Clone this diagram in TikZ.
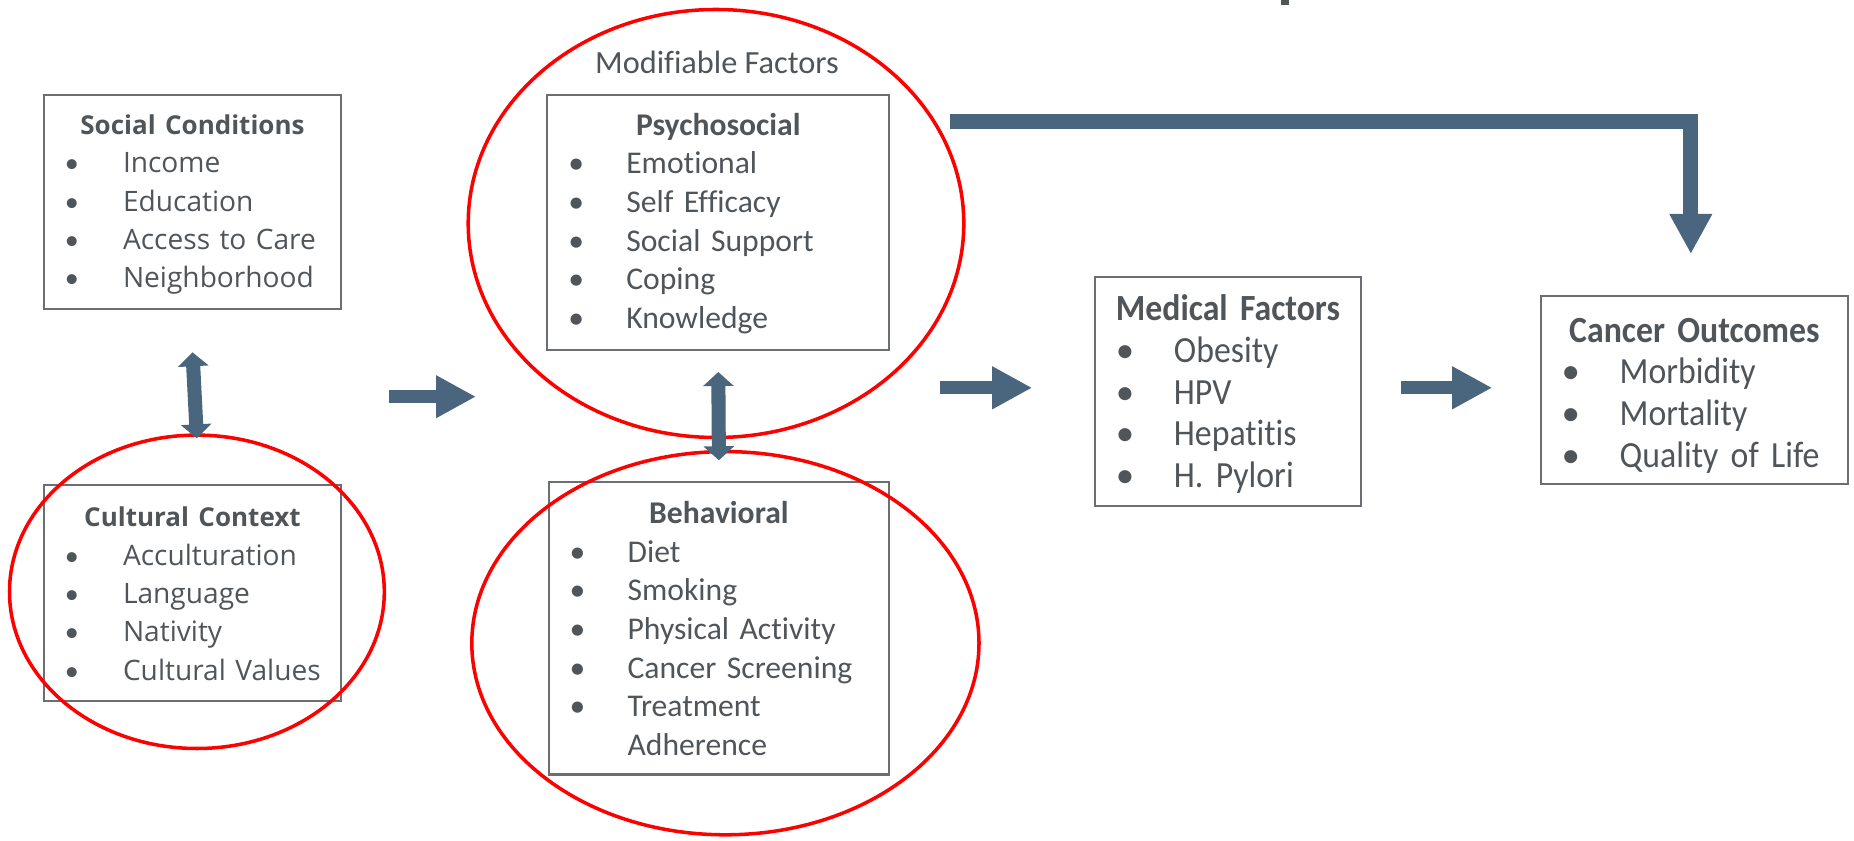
\documentclass[tikz,border=0pt]{standalone}
\usepackage{fontspec}
\setmainfont{Carlito}[Ligatures=NoCommon]
\newfontfamily\opensans{Open Sans}
\newfontfamily\narrowfont{Carlito}[FakeStretch=0.915, Ligatures=NoCommon]
\newfontfamily\bulletfont{Carlito}
\usetikzlibrary{arrows.meta,shapes.geometric}

\definecolor{txtgray}{HTML}{50555A}
\definecolor{boxgray}{HTML}{6B6E72}
\definecolor{arrowblue}{HTML}{4A657E}

\newcommand{\bitem}[1]{\makebox[0.58cm][l]{\bulletfont\textbullet}\mbox{#1}}
\newcommand{\btitle}[2][0pt]{\makebox[\linewidth][c]{\rule{0pt}{#1}\bfseries #2}}
\newcommand{\ltitle}[2][0pt]{\btitle[#1]{\fontsize{7.4}{10.9}\selectfont #2}}

\tikzset{
	factorbox/.style={draw=boxgray, line width=0.6pt, inner xsep=0.21cm, inner ysep=0pt, text=txtgray, align=left},
	leftfont/.style={font=\opensans\fontsize{8}{10.9}\selectfont},
	midfont/.style={font=\fontsize{9}{11}\selectfont},
	rightfont/.style={font=\narrowfont\fontsize{10.5}{11.85}\selectfont},
	redring/.style={draw=red, line width=1pt, ellipse, inner sep=0pt},
	blockarrow/.style={arrowblue, line width=3.7pt, -{Triangle[width=0.40cm,length=0.40cm]}},
	twoway/.style={arrowblue, line width=4pt, {Triangle[width=0.30cm,length=0.14cm]}-{Triangle[width=0.30cm,length=0.14cm]}}
}

\begin{document}
\begin{tikzpicture}
	\useasboundingbox (0,0) rectangle (18.54,8.40);

	% left column
	\node [factorbox, leftfont, minimum width=2.97cm, minimum height=2.14cm, text width=2.55cm] (social) at (1.925,6.384)
		{\ltitle[7.3pt]{Social Conditions}\\ \bitem{Income}\\ \bitem{Education}\\ \bitem{Access to Care}\\ \bitem{Neighborhood}};
	\node [factorbox, leftfont, minimum width=2.97cm, minimum height=2.164cm, text width=2.55cm] (cultural) at (1.925,2.47)
		{\ltitle[6pt]{Cultural Context}\\ \bitem{Acculturation}\\ \bitem{Language}\\ \bitem{Nativity}\\ \bitem{Cultural Values}};
	\node [redring, minimum width=3.748cm, minimum height=3.134cm] (ringcult) at (1.969,2.482) {};

	% modifiable factors
	\node [text=txtgray, font=\fontsize{9.2}{10}\selectfont] (modif) at (7.17,7.773) {Modifiable Factors};
	\node [factorbox, midfont, minimum width=3.418cm, minimum height=2.554cm, text width=3.0cm] (psycho) at (7.183,6.177)
		{\btitle[7pt]{Psychosocial}\\ \bitem{Emotional}\\ \bitem{Self Efficacy}\\ \bitem{Social Support}\\ \bitem{Coping}\\ \bitem{Knowledge}};
	\node [factorbox, midfont, minimum width=3.406cm, minimum height=2.921cm, text width=2.986cm] (behav) at (7.189,2.116)
		{\btitle{Behavioral}\\ \bitem{Diet}\\ \bitem{Smoking}\\ \bitem{Physical Activity}\\ \bitem{Cancer Screening}\\ \bitem{Treatment}\\ \makebox[0.58cm]{}Adherence};
	\node [redring, minimum width=4.956cm, minimum height=4.28cm] (ringpsy) at (7.16,6.165) {};
	\node [redring, minimum width=5.072cm, minimum height=3.832cm] (ringbeh) at (7.254,1.968) {};

	% right side
	\node [factorbox, rightfont, minimum width=2.661cm, minimum height=2.294cm, text width=2.24cm] (medical) at (12.279,4.486)
		{\btitle[8.9pt]{Medical Factors}\\ \bitem{Obesity}\\ \bitem{HPV}\\ \bitem{Hepatitis}\\ \bitem{H. Pylori}};
	\node [factorbox, rightfont, minimum width=3.074cm, minimum height=1.88cm, text width=2.654cm] (cancer) at (16.944,4.504)
		{\btitle[10.2pt]{Cancer Outcomes}\\ \bitem{Morbidity}\\ \bitem{Mortality}\\ \bitem{Quality of Life}};

	% arrows
	\coordinate (left1) at (3.89,4.433);
	\coordinate (left2) at (4.76,4.433);
	\coordinate (mid1) at (9.40,4.522);
	\coordinate (mid2) at (10.322,4.522);
	\coordinate (right1) at (14.011,4.522);
	\coordinate (right2) at (14.922,4.522);
	\coordinate (top1) at (9.495,7.182);
	\coordinate (top2) at (16.908,5.86);
	\draw [twoway] ([yshift=-4.26mm]social.south) -- ([yshift=-0.5mm]ringcult.north);
	\draw [twoway] ([yshift=-2.1mm]psycho.south) -- ([yshift=2.1mm]behav.north);
	\draw [blockarrow] (left1) -- (left2);
	\draw [blockarrow] (mid1) -- (mid2);
	\draw [blockarrow] (right1) -- (right2);
	\draw [blockarrow, line width=4.2pt] (top1) -| (top2);

	% cut-off title at top
	\fill [txtgray] (12.81,8.40) rectangle (12.89,8.35);
\end{tikzpicture}
\end{document}
